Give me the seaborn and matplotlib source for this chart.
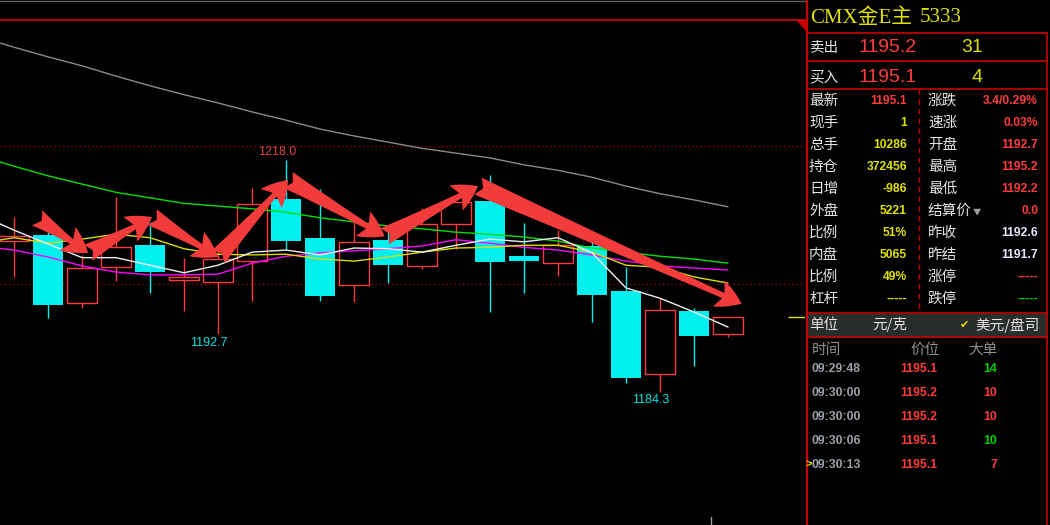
import seaborn as sns
import matplotlib.pyplot as plt
from matplotlib.patches import Rectangle, Polygon

# ---- candle data ----
opens  = [1206.2, 1207.1, 1197.2, 1202.4, 1205.6, 1200.6, 1200.3, 1203.3, 1212.3, 1206.7, 1199.8,
          1206.4, 1202.6, 1208.7, 1212.0, 1204.0, 1203.0, 1205.5, 1199.0, 1186.9, 1196.0, 1192.7]
highs  = [1209.7, 1207.5, 1204.2, 1212.6, 1209.0, 1203.7, 1204.8, 1213.9, 1218.0, 1213.8, 1209.0,
          1208.3, 1211.0, 1211.9, 1215.8, 1208.8, 1207.8, 1206.5, 1202.4, 1197.9, 1196.5, 1195.2]
lows   = [1201.0, 1195.0, 1196.5, 1200.4, 1198.7, 1196.0, 1192.7, 1197.5, 1204.9, 1197.5, 1197.4,
          1200.1, 1202.2, 1205.1, 1195.9, 1198.7, 1201.1, 1194.4, 1185.6, 1184.3, 1188.0, 1192.2]
closes = [1206.9, 1196.9, 1202.3, 1205.3, 1201.7, 1201.0, 1203.6, 1211.6, 1206.2, 1198.2, 1206.1,
          1202.7, 1208.7, 1211.9, 1203.2, 1203.3, 1205.6, 1198.4, 1186.3, 1196.2, 1192.4, 1195.1]

# moving averages, one value per bar starting one bar before the first visible one
ma_idx = list(range(-1, 22))
ma_white   = [1210.0, 1207.8, 1205.8, 1203.8, 1203.8, 1202.7, 1201.6, 1202.7, 1204.6, 1204.9, 1204.2, 1205.2,
              1205.1, 1204.6, 1205.6, 1206.5, 1206.1, 1206.7, 1204.5, 1199.4, 1197.9, 1195.9, 1193.7]
ma_yellow  = [1205.9, 1206.7, 1205.9, 1206.5, 1207.2, 1206.7, 1205.1, 1204.3, 1204.2, 1204.3, 1203.6, 1203.3,
              1203.9, 1204.6, 1205.2, 1205.3, 1205.6, 1205.6, 1204.6, 1202.7, 1202.4, 1201.0, 1200.1]
ma_magenta = [1205.5, 1204.9, 1203.9, 1202.6, 1201.7, 1201.3, 1201.3, 1201.4, 1203.0, 1204.0, 1204.5, 1204.8,
              1205.1, 1205.5, 1206.4, 1205.9, 1205.3, 1204.9, 1204.2, 1203.3, 1202.6, 1202.3, 1202.0]
ma_green   = [1218.6, 1217.1, 1215.7, 1214.5, 1213.3, 1212.5, 1211.7, 1211.3, 1210.9, 1210.4, 1209.6, 1209.0,
              1208.4, 1208.0, 1207.5, 1207.2, 1206.8, 1206.2, 1205.2, 1204.6, 1204.0, 1203.6, 1203.0]
ma_gray    = [1235.9, 1234.4, 1233.0, 1231.7, 1230.2, 1228.8, 1227.5, 1226.3, 1225.0, 1223.8, 1222.5, 1221.5,
              1220.6, 1219.7, 1219.0, 1218.3, 1217.3, 1216.5, 1215.5, 1214.2, 1213.1, 1212.2, 1211.2]

# hand drawn zigzag arrows (bar index, price)
zig_idx   = [0.68, 2.18, 4.06, 6.0, 8.06, 10.9, 13.65, 21.4]
zig_price = [1209.6, 1204.5, 1209.7, 1203.9, 1215.1, 1206.9, 1214.2, 1197.1]

grid_prices = [1200, 1220]

# ---- quote panel data ----
title_name = "CMX金E主"
title_code = "5333"
ask = ("卖出", "1195.2", "31")
bid = ("买入", "1195.1", "4")
left_labels  = ["最新", "现手", "总手", "持仓", "日增", "外盘", "比例", "内盘", "比例", "杠杆"]
left_values  = ["1195.1", "1", "10286", "372456", "-986", "5221", "51%", "5065", "49%", "-----"]
right_labels = ["涨跌", "速涨", "开盘", "最高", "最低", "结算价", "昨收", "昨结", "涨停", "跌停"]
right_values = ["3.4/0.29%", "0.03%", "1192.7", "1195.2", "1192.2", "0.0", "1192.6", "1191.7", "-----", "-----"]
tick_times  = ["09:29:48", "09:30:00", "09:30:00", "09:30:06", "09:30:13"]
tick_prices = ["1195.1", "1195.2", "1195.2", "1195.1", "1195.1"]
tick_sizes  = [14, 10, 10, 10, 7]
tick_up     = [False, True, True, False, True]

RED = "#ff3c3c"
YEL = "#e0e000"
CYAN = "#00f0f0"
GRN = "#00d000"
BORDER = "#c80000"
LBL = "#e4e4e4"

sns.set_theme(style="dark", rc={"axes.facecolor": "black", "figure.facecolor": "black"})
plt.rcParams["font.family"] = ["Liberation Sans", "Noto Sans CJK SC", "DejaVu Sans"]
CJK = ["Noto Sans CJK SC", "DejaVu Sans"]

fig = plt.figure(figsize=(10.5, 5.25), dpi=100)

# ---- candlestick chart ----
ax = fig.add_axes([0, 0, 805 / 1050, 1])
ax.set_facecolor("black")
ax.set_xlim(-14 / 34, 791 / 34)
ax.set_ylim(1164.92, 1241.27)
ax.axis("off")

for p in grid_prices:
    ax.axhline(p, color="#900000", lw=1, ls=(0, (1, 2)), zorder=1)

w = 0.88
for i, (o, h, l, c) in enumerate(zip(opens, highs, lows, closes)):
    if c >= o:
        ax.vlines(i, max(o, c), h, color=RED, lw=1, zorder=2)
        ax.vlines(i, l, min(o, c), color=RED, lw=1, zorder=2)
        ax.bar(i, c - o, bottom=o, width=w, facecolor="black", edgecolor=RED, linewidth=1, zorder=2)
    else:
        ax.vlines(i, l, h, color=CYAN, lw=1, zorder=2)
        ax.bar(i, o - c, bottom=c, width=w, color=CYAN, linewidth=0, zorder=2)

for vals, col in [(ma_gray, "#8a8a8a"), (ma_green, "#00e000"), (ma_magenta, "#ff00ff"),
                  (ma_yellow, "#dcdc00"), (ma_white, "#f0f0f0")]:
    sns.lineplot(x=ma_idx, y=vals, color=col, lw=1, ax=ax, zorder=3)

# current price marker
ax.hlines(closes[-1], 22.75, 23.3, color=YEL, lw=1, zorder=3)

# high / low labels
ax.annotate(f"{highs[8]:.1f}", (8, highs[8]), xytext=(-9, 8), textcoords="offset pixels",
            ha="center", va="center", color="#e04444", fontsize=9)
ax.annotate(f"{lows[6]:.1f}", (6, lows[6]), xytext=(-9, -9), textcoords="offset pixels",
            ha="center", va="center", color="#00e0e0", fontsize=9)
ax.annotate(f"{lows[19]:.1f}", (19, lows[19]), xytext=(-9, -8), textcoords="offset pixels",
            ha="center", va="center", color="#00e0e0", fontsize=9)

for k in range(len(zig_idx) - 1):
    ax.annotate("", xy=(zig_idx[k + 1], zig_price[k + 1]), xytext=(zig_idx[k], zig_price[k]),
                arrowprops=dict(arrowstyle="fancy,head_length=0.75,head_width=0.85,tail_width=0.55",
                                color="#f23c3c", lw=0, shrinkA=0, shrinkB=0, mutation_scale=24),
                zorder=5)

# ---- overlay in pixel coordinates for frame and quote panel ----
ov = fig.add_axes([0, 0, 1, 1])
ov.set_xlim(0, 1050)
ov.set_ylim(525, 0)
ov.axis("off")
ov.patch.set_alpha(0)

ov.plot([0, 806], [0.5, 0.5], color="#606060", lw=1)
ov.plot([0, 806], [20, 20], color=BORDER, lw=1.3)
ov.add_patch(Polygon([[797, 20], [806, 20], [806, 30]], closed=True, color=BORDER))
ov.plot([806.5, 806.5], [0, 525], color=BORDER, lw=1.6)
ov.plot([711, 711], [517, 525], color="#a0a0a0", lw=1)

for yy in [33, 61, 89, 313, 337]:
    ov.plot([807, 1047], [yy, yy], color=BORDER, lw=1.2)
ov.plot([1047, 1047], [33, 525], color=BORDER, lw=1.2)
ov.plot([918.5, 918.5], [89, 313], color=BORDER, lw=1, ls=(0, (4, 3)))
ov.add_patch(Rectangle((808, 314), 238, 22.5, color="#2a2e2a", zorder=0))

ov.text(810, 18, title_name, color=YEL, fontsize=15, va="center",
        family=["Liberation Serif", "Noto Sans CJK SC"])
ov.text(920, 18, title_code, color=YEL, fontsize=15, va="center", family=["Liberation Serif"])

for (lab, price, vol), yy in [(ask, 48), (bid, 77)]:
    ov.text(809, yy, lab, color=LBL, fontsize=10.5, va="center", family=CJK)
    ov.text(858, yy, price, color=RED, fontsize=14, va="center")
    ov.text(983, yy, vol, color=YEL, fontsize=14, va="center", ha="right")

for r in range(len(left_labels)):
    yy = 101 + 22 * r
    ov.text(809, yy, left_labels[r], color=LBL, fontsize=10.5, va="center", family=CJK)
    ov.text(907, yy, left_values[r], color=RED if r == 0 else YEL, fontsize=8.7,
            fontweight="bold", va="center", ha="right")
    ov.text(928, yy, right_labels[r], color=LBL, fontsize=10.5, va="center", family=CJK)
    if r in (6, 7):
        vc = "#e8e8ff"
    elif r == 9:
        vc = GRN
    else:
        vc = RED
    ov.text(1038, yy, right_values[r], color=vc, fontsize=8.7, fontweight="bold",
            va="center", ha="right")
ov.text(977, 212, "▼", color="#a0a0a0", fontsize=6, va="center", ha="center", family=CJK)

ov.text(809, 325, "单位", color=LBL, fontsize=10.5, va="center", family=CJK)
ov.text(872, 325, "元/克", color=LBL, fontsize=10.5, va="center", family=CJK)
ov.text(960, 325, "✔", color=YEL, fontsize=8, va="center", family=["DejaVu Sans"])
ov.text(975, 325, "美元/盘司", color=LBL, fontsize=10.5, va="center", family=CJK)

ov.text(812, 350, "时间", color="#909090", fontsize=10.5, va="center", family=CJK)
ov.text(910, 350, "价位", color="#909090", fontsize=10.5, va="center", family=CJK)
ov.text(968, 350, "大单", color="#909090", fontsize=10.5, va="center", family=CJK)
for r in range(len(tick_times)):
    yy = 369 + 24 * r
    ov.text(812, yy, tick_times[r], color="#9aa0a8", fontsize=8.8, fontweight="bold", va="center")
    ov.text(937, yy, tick_prices[r], color=RED, fontsize=8.8, fontweight="bold", va="center", ha="right")
    ov.text(997, yy, str(tick_sizes[r]), color=RED if tick_up[r] else GRN, fontsize=8.8,
            fontweight="bold", va="center", ha="right")
ov.text(806, 369 + 24 * 4, ">", color=YEL, fontsize=8, va="center", fontweight="bold")

fig.savefig("out.png", dpi=100, facecolor="black")
